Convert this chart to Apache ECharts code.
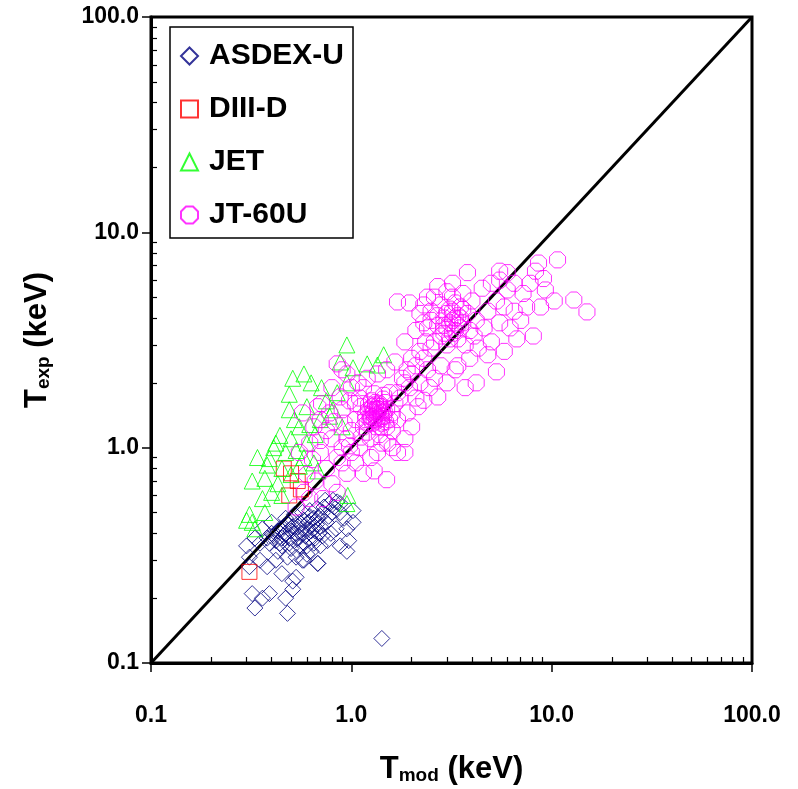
<!DOCTYPE html>
<html>
<head>
<meta charset="utf-8">
<script src="https://cdn.jsdelivr.net/npm/echarts@6/dist/echarts.min.js"></script>
<style>
html,body{margin:0;padding:0;background:#fff;}
#chart{width:798px;height:789px;}
</style>
</head>
<body>
<div id="chart"></div>
<script>
// ---- data ----
const seriesNames = ['ASDEX-U', 'DIII-D', 'JET', 'JT-60U'];
const majorTicks = [0.1, 1, 10, 100];
const minorTicks = [0.2,0.3,0.4,0.5,0.6,0.7,0.8,0.9,2,3,4,5,6,7,8,9,20,30,40,50,60,70,80,90];
const diagX = [0.1, 100];
const diagY = [0.1, 100];

const asdexData = [
  [0.38,0.38],[0.4,0.4],[0.42,0.37],[0.44,0.42],[0.46,0.39],[0.48,0.44],[0.5,0.41],[0.52,0.37],
  [0.54,0.43],[0.56,0.4],[0.58,0.46],[0.6,0.42],[0.62,0.38],[0.64,0.44],[0.66,0.41],[0.68,0.47],
  [0.7,0.43],[0.72,0.39],[0.45,0.35],[0.5,0.34],[0.55,0.35],[0.6,0.35],[0.65,0.36],[0.47,0.47],
  [0.52,0.49],[0.57,0.5],[0.62,0.48],[0.67,0.52],[0.72,0.5],[0.4,0.45],[0.36,0.42],[0.43,0.33],
  [0.53,0.31],[0.58,0.3],[0.48,0.31],[0.63,0.33],[0.7,0.35],[0.75,0.45],[0.78,0.55],[0.74,0.57],
  [0.8,0.5],[0.85,0.56],[0.88,0.5],[1.02,0.45],[0.95,0.33],[0.97,0.37],[0.88,0.35],[0.76,0.37],
  [0.68,0.29],[0.6,0.32],[0.57,0.3],[0.88,0.55],[1.02,0.51],[0.95,0.42],[0.81,0.57],[0.92,0.47],
  [0.84,0.42],[0.79,0.4],[0.3,0.35],[0.31,0.31],[0.33,0.38],[0.35,0.36],[0.31,0.28],[0.35,0.3],
  [0.38,0.28],[0.42,0.3],[0.45,0.26],[0.53,0.25],[0.51,0.22],[0.51,0.24],[0.47,0.2],[0.48,0.17],
  [0.39,0.21],[0.36,0.2],[0.32,0.21],[0.33,0.18],[0.68,0.29],[1.42,0.13],
  [0.41,0.39],[0.43,0.41],[0.45,0.38],[0.47,0.4],[0.49,0.38],[0.51,0.43],[0.53,0.4],[0.55,0.45],
  [0.57,0.42],[0.59,0.39],[0.61,0.45],[0.63,0.41],[0.65,0.47],[0.67,0.44],[0.69,0.4],[0.46,0.43],
  [0.5,0.46],[0.54,0.38],[0.58,0.36],[0.62,0.51],[0.66,0.38],[0.7,0.48],[0.73,0.53],[0.39,0.36],
  [0.44,0.36],[0.49,0.36],[0.77,0.48],[0.82,0.53]
];

const diiidData = [
  [0.46,0.8],[0.5,0.76],[0.54,0.7],[0.56,0.64],[0.49,0.6],[0.31,0.265]
];

const jetData = [
  [0.95,3.0],[1.45,2.7],[0.51,2.1],[0.58,2.2],[0.63,2.0],[0.71,1.9],[0.49,1.77],[0.49,1.5],
  [0.85,1.8],[0.81,1.5],[1.02,2.35],[0.95,2.0],[1.2,2.45],[1.35,2.42],[0.88,2.5],[0.44,1.14],
  [0.42,1.05],[0.5,1.1],[0.62,1.28],[0.39,0.89],[0.41,1.0],[0.47,0.95],[0.53,0.97],[0.38,0.83],
  [0.32,0.7],[0.37,0.72],[0.34,0.9],[0.31,0.49],[0.37,0.5],[0.3,0.46],[0.32,0.45],[0.33,0.42],
  [0.96,0.6],[0.95,0.55],[0.55,1.25],[0.6,1.05],[0.66,1.15],[0.7,1.35],[0.58,0.9],[0.65,0.85],
  [0.45,0.8],[0.43,0.68],[0.4,0.62],[0.36,0.58],[0.5,0.75],[0.55,0.82],[0.6,1.55],[0.75,1.65],
  [0.52,1.35],[0.68,0.78],[0.78,1.4],[0.9,1.25],[0.45,0.6]
];

const jt60Data = [
  // dense core near 1.35 keV
  [1.2,1.3],[1.25,1.4],[1.3,1.5],[1.35,1.45],[1.4,1.55],[1.45,1.4],[1.3,1.35],[1.38,1.6],
  [1.28,1.55],[1.5,1.5],[1.42,1.3],[1.22,1.5],[1.33,1.25],[1.47,1.62],[1.18,1.42],[1.36,1.38],
  [1.55,1.35],[1.26,1.65],[1.4,1.45],[1.32,1.58],[1.15,1.25],[1.5,1.25],[1.6,1.45],[1.12,1.55],
  [1.45,1.75],[1.3,1.78],[1.2,1.18],[1.6,1.2],[1.38,1.15],[1.65,1.6],[1.05,1.35],[1.1,1.7],
  [1.55,1.8],[1.7,1.35],[1.25,1.1],[1.42,1.05],[1.0,1.2],[1.75,1.7],[1.52,1.05],[1.15,1.9],
  [1.33,1.42],[1.37,1.5],[1.29,1.46],[1.41,1.4],[1.35,1.52],[1.31,1.4],[1.39,1.36],[1.27,1.48],
  [1.43,1.5],[1.34,1.33],[1.36,1.56],[1.24,1.36],[1.46,1.46],[1.32,1.62],[1.4,1.25],[1.28,1.3],
  [1.48,1.32],[1.22,1.58],[1.44,1.68],[1.18,1.35],
  // around first core
  [0.9,1.0],[0.95,1.1],[0.85,0.9],[1.0,0.95],[1.1,1.0],[0.8,1.1],[0.75,1.2],[0.7,1.35],
  [0.65,1.25],[0.57,1.45],[0.71,1.6],[0.88,1.72],[0.85,2.45],[0.9,2.3],[0.95,2.2],[0.8,1.9],
  [1.0,1.9],[1.2,2.1],[1.35,2.2],[1.65,2.5],[1.5,2.3],[1.8,2.1],[1.95,1.9],[2.1,1.7],
  [1.9,1.45],[2.0,1.25],[1.85,1.1],[1.7,0.95],[1.85,0.95],[1.5,0.71],[1.15,0.76],[0.95,0.76],
  [0.64,0.88],[0.6,0.75],[0.7,0.95],[0.53,0.53],[0.58,0.62],[0.66,0.7],[0.75,0.8],[0.8,0.68],
  [1.05,0.85],[1.25,0.9],[1.3,0.78],[0.78,1.45],[0.62,1.05],[0.55,0.95],[0.68,1.55],[0.9,1.5],
  [1.05,1.6],[0.92,1.3],[1.08,2.0],[0.98,1.65],[1.6,1.0],[1.35,0.95],
  [0.72,0.58],[0.62,0.58],[0.85,0.62],[0.9,0.85],[0.98,1.02],[1.12,1.12],[0.82,1.32],[0.7,1.08],
  // bridge along the diagonal
  [1.7,1.8],[1.85,2.0],[2.0,2.2],[2.1,2.4],[2.2,2.0],[2.3,2.6],[2.2,2.8],[2.4,2.3],
  [2.5,2.9],[2.0,2.6],[2.35,3.1],[1.9,2.3],[2.3,1.66],[2.7,1.72],[2.6,2.1],[2.15,1.55],
  [2.45,1.9],[3.3,2.3],[3.0,2.0],[2.8,2.4],
  // second core near 3 keV
  [2.8,3.3],[3.0,3.6],[3.2,3.9],[3.4,4.1],[3.6,3.8],[3.3,3.5],[2.9,4.0],[3.1,4.4],
  [3.5,4.5],[2.7,3.7],[3.8,4.2],[3.9,3.5],[2.6,3.1],[3.0,3.0],[3.4,3.2],[2.8,4.6],
  [3.2,5.0],[3.6,5.2],[2.5,4.3],[4.0,4.8],[4.2,3.9],[2.4,3.6],[3.7,3.0],[4.1,3.3],
  [2.6,5.0],[3.0,5.3],[3.3,4.7],[2.9,3.4],[3.5,3.6],[3.1,3.2],
  [3.1,3.8],[3.3,4.0],[3.0,4.2],[3.2,3.4],[3.4,3.7],[2.9,3.7],[3.2,4.3],[3.5,4.0],
  [2.7,4.1],[3.6,4.4],[2.5,3.9],[2.3,4.6],
  // outer spread
  [1.7,4.75],[1.95,4.7],[2.2,4.2],[2.4,5.0],[2.7,5.6],[3.2,5.8],[3.8,6.5],[4.5,5.5],
  [5.0,5.8],[5.5,6.0],[6.0,5.4],[6.5,5.8],[5.3,4.8],[4.8,4.3],[5.8,4.5],[6.5,4.3],
  [7.0,3.9],[6.2,3.6],[5.5,3.8],[4.6,3.6],[4.3,2.9],[5.0,3.1],[6.7,3.2],[8.1,3.3],
  [5.3,2.25],[4.2,2.0],[3.7,1.9],[3.4,2.4],[3.9,2.6],[4.8,2.7],[5.8,2.8],[7.5,4.5],
  [8.8,4.5],[9.3,5.4],[8.3,6.6],[9.1,6.1],[8.6,7.2],[10.7,7.45],[10.3,4.8],[12.9,4.85],
  [15.0,4.27],[7.2,5.2],[7.8,5.8],[6.0,6.5],[2.1,3.5],[1.85,3.1],[2.3,3.8],[5.5,6.6]
];

// ---- chart ----
const FONT = 'Liberation Sans, Arial, sans-serif';
const octagon = 'path://M2.93,0 L7.07,0 L10,2.93 L10,7.07 L7.07,10 L2.93,10 L0,7.07 L0,2.93 Z';
const fmt = v => Number(v).toFixed(1);

function mainAxis(extra) {
  return Object.assign({
    type: 'log', logBase: 10, min: 0.1, max: 100,
    axisLine: { show: true, onZero: false, lineStyle: { color: '#000', width: 3 } },
    axisTick: { show: true, inside: false, length: 9, customValues: majorTicks, lineStyle: { color: '#000', width: 1.5 } },
    splitLine: { show: false },
    minorTick: { show: false },
    minorSplitLine: { show: false }
  }, extra);
}
function minorAxis(extra) {
  return Object.assign({
    type: 'log', logBase: 10, min: 0.1, max: 100,
    axisLine: { show: false },
    axisTick: { show: true, inside: true, length: 6, customValues: minorTicks, lineStyle: { color: '#000', width: 1.2 } },
    axisLabel: { show: false },
    splitLine: { show: false }
  }, extra);
}

const nameRich = {
  t: { fontSize: 31, fontWeight: 'bold', fontFamily: FONT, color: '#000', lineHeight: 36 },
  s: { fontSize: 19, fontWeight: 'bold', fontFamily: FONT, color: '#000', lineHeight: 36, padding: [14, 0, 0, 0] }
};

function scatter(name, data, symbol, color, size) {
  return {
    name: name, type: 'scatter', data: data, symbol: symbol, symbolSize: size,
    itemStyle: { color: 'rgba(0,0,0,0)', borderColor: color, borderWidth: 1 },
    emphasis: { disabled: true }, z: 3
  };
}

const chart = echarts.init(document.getElementById('chart'), null, { renderer: 'canvas' });
chart.setOption({
  backgroundColor: '#fff',
  animation: false,
  grid: { left: 151, right: 46, top: 17, bottom: 126, outerBoundsMode: 'none', containLabel: false,
          show: true, borderColor: '#000', borderWidth: 3, backgroundColor: 'transparent' },
  legend: {
    data: seriesNames,
    orient: 'vertical', left: 170, top: 27,
    padding: [14, 9, 8, 10],
    itemWidth: 17, itemHeight: 17, itemGap: 23,
    borderColor: '#000', borderWidth: 1.5, backgroundColor: '#fff',
    textStyle: { color: '#000', fontFamily: FONT, fontWeight: 'bold', fontSize: 30, lineHeight: 30, padding: [0, 0, 0, 6] }
  },
  xAxis: [
    mainAxis({
      position: 'bottom',
      axisLabel: { customValues: majorTicks, formatter: fmt, color: '#000', fontFamily: FONT, fontWeight: 'bold', fontSize: 23, margin: 41 },
      name: '{t|T}{s|mod}{t| (keV)}', nameLocation: 'middle', nameGap: 88,
      nameTextStyle: { rich: nameRich }
    }),
    minorAxis({ position: 'bottom' })
  ],
  yAxis: [
    mainAxis({
      position: 'left',
      axisLabel: { customValues: majorTicks, formatter: fmt, color: '#000', fontFamily: FONT, fontWeight: 'bold', fontSize: 23, margin: 12 },
      name: '{t|T}{s|exp}{t| (keV)}', nameLocation: 'middle', nameGap: 96, nameRotate: 90,
      nameTextStyle: { rich: nameRich }
    }),
    minorAxis({ position: 'left' })
  ],
  series: [
    {
      name: 'diag', type: 'line', data: diagX.map((x, i) => [x, diagY[i]]),
      symbol: 'none', silent: true, z: 2,
      lineStyle: { color: '#000', width: 3 }
    },
    scatter('ASDEX-U', asdexData, 'diamond', '#000080', 16),
    scatter('DIII-D', diiidData, 'rect', '#ff0000', 15),
    scatter('JET', jetData, 'triangle', '#00ff00', 16),
    scatter('JT-60U', jt60Data, octagon, '#ff00ff', 16)
  ]
});
</script>
</body>
</html>
